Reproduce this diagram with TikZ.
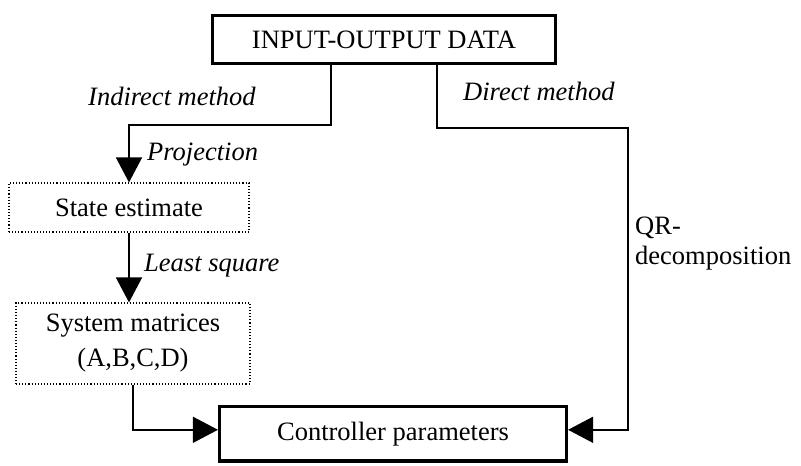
\documentclass[tikz,border=0pt]{standalone}
\usepackage{fontspec}
\setmainfont{Liberation Serif}
\usetikzlibrary{arrows.meta,calc}
\begin{document}
\begin{tikzpicture}[x=1pt,y=-1pt,
  every node/.style={font=\fontsize{26.5}{30}\selectfont},
  thickbox/.style={draw,line width=3.2pt,inner sep=0pt,align=center},
  dotbox/.style={draw,dotted,line width=1.1pt,inner sep=0pt,align=center},
  conn/.style={line width=1.5pt,-{Triangle[length=25pt,width=26pt]}},
  line/.style={line width=1.5pt},
  lbl/.style={anchor=base west,inner sep=0pt,font=\fontsize{26.5}{30}\selectfont\itshape},
  plain/.style={anchor=base west,inner sep=0pt}]
\useasboundingbox (0,0) rectangle (801,466);
\node[thickbox,minimum width=343pt,minimum height=48pt] (io) at (384,39.5) {INPUT-OUTPUT DATA};
\node[dotbox,minimum width=240pt,minimum height=49pt] (st) at (129,207.5) {State estimate};
\node[dotbox,minimum width=234pt,minimum height=81pt] (sys) at (133,343.5) {System matrices\\[5pt](A,B,C,D)};
\node[thickbox,minimum width=347pt,minimum height=54.5pt] (ctrl) at (393,433.8) {Controller parameters};
\coordinate (l1) at (331,125);
\coordinate (r1) at (628,128);
\coordinate (r0) at (437,0);
\draw[conn] (io.south -| l1) -- (l1) -| (st.north);
\draw[conn] (st.south) -- (st.south |- sys.north);
\draw[conn] (sys.south) |- ($(ctrl.west)+(0,-4)$);
\draw[conn] (io.south -| r0) |- (r1) |- ($(ctrl.east)+(0,-4)$);
\node[lbl] (t1) at (88,105) {Indirect method};
\node[lbl] (t2) at (147,160) {Projection};
\node[lbl] (t3) at (144,271.7) {Least square};
\node[lbl] (t4) at (463,100) {Direct method};
\node[plain] (t5) at (635,234) {QR-};
\node[plain] (t6) at (635,264) {decomposition};
\end{tikzpicture}
\end{document}
